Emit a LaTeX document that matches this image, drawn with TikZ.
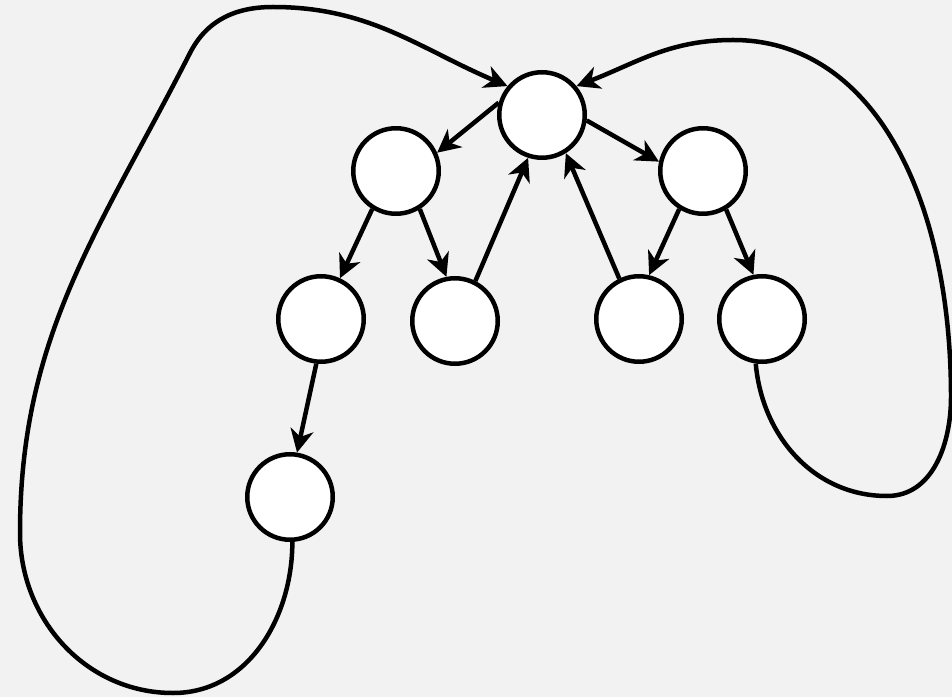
\documentclass[tikz,border=0pt]{standalone}
\usetikzlibrary{arrows.meta}
\usepackage{xcolor}
\definecolor{paper}{HTML}{F2F2F2}

\begin{document}
\begin{tikzpicture}[
  x=1pt, y=1pt,
  vert/.style={circle, draw=black, fill=white, line width=4.5pt, minimum size=85.5pt, inner sep=0pt},
  arr/.style={-{Stealth[length=23pt, width=23pt, inset=7pt]}, black, line width=4.5pt}
]
\fill[paper] (0,0) rectangle (952,697);
\useasboundingbox (0,0) rectangle (952,697);

\node[vert] (root) at (542,582) {};
\node[vert] (nL) at (396,526) {};
\node[vert] (nR) at (703,526) {};
\node[vert] (nLL) at (321,378) {};
\node[vert] (nLR) at (455,376) {};
\node[vert] (nRL) at (639,378) {};
\node[vert] (nRR) at (762,378) {};
\node[vert] (nLLL) at (290,200) {};

\draw[arr] (root.164) -- (nL.24); \draw[arr] (root.-7) -- (nR.168);
\draw[arr] (nL.-122) -- (nLL.65); \draw[arr] (nL.-58) -- (nLR.101);
\draw[arr] (nR.-122) -- (nRL.77); \draw[arr] (nR.-59) -- (nRR.101);
\draw[arr] (nLR.63) -- (root.-108); \draw[arr] (nRL.116) -- (root.-58);
\draw[arr] (nLL.-96) -- (nLLL.81);

% long way back round the left
\draw[arr] (nLLL.-87) to[out=-90,in=0] (173,4) to[out=180,in=-90] (20,164)
  to[out=90,in=-117] (190,644) to[out=63,in=180] (273,690) to[out=0,in=157] (root.140);
% and round the right
\draw[arr] (nRR.-98) to[out=-85,in=180] (887,201) to[out=0,in=-90] (951,300)
  to[out=90,in=0,out distance=200pt,in distance=140pt] (733,657) to[out=180,in=21] (root.40);
\end{tikzpicture}
\end{document}
